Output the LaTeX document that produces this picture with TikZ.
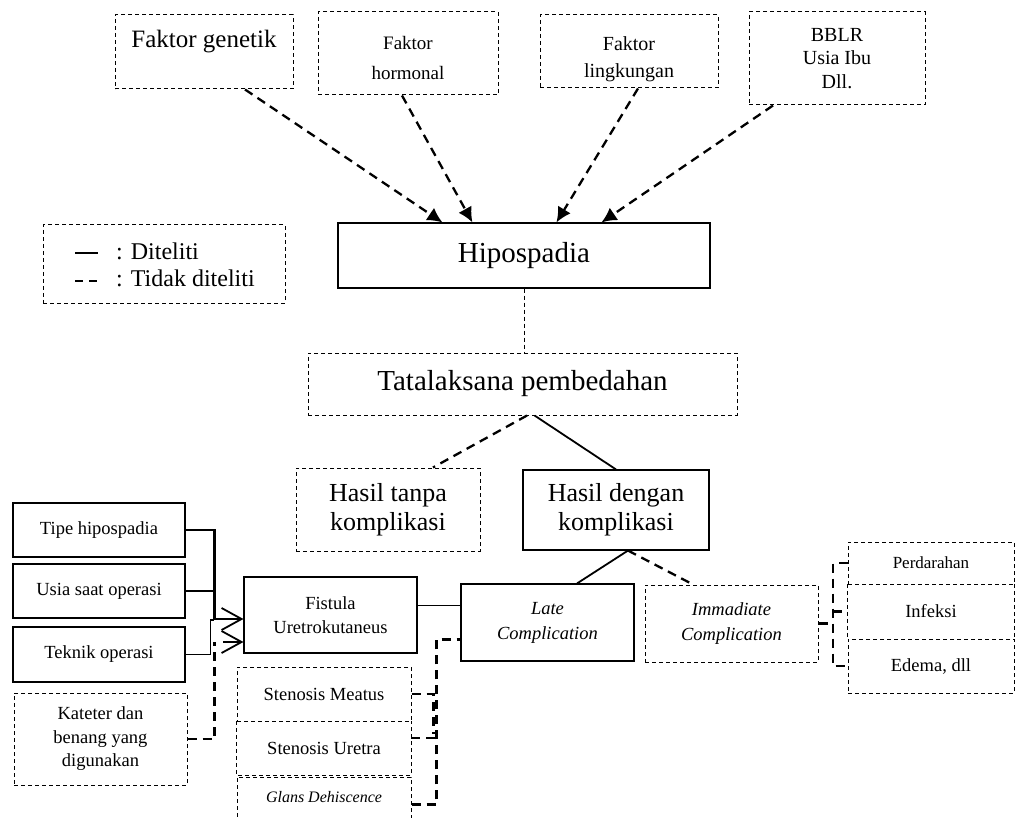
\documentclass[tikz,border=0pt]{standalone}
\usepackage{fontspec}
\setmainfont{Liberation Serif}
\usetikzlibrary{arrows.meta,calc}
\begin{document}
\begin{tikzpicture}[x=1pt,y=-1pt,
  sbox/.style={draw, line width=1.1pt, inner sep=0pt, align=center, rectangle},
  dbox/.style={draw, line width=1pt, dash pattern=on 4pt off 3pt, inner sep=0pt, align=center, rectangle},
  nbox/.style={inner sep=0pt, align=center, rectangle},
  dline/.style={line width=1pt, dash pattern=on 4pt off 3pt},
  txt/.style={inner sep=0pt, align=center},
  sconn/.style={line width=1.8pt},
  dconn/.style={line width=2.3pt, dash pattern=on 9pt off 6pt},
  tarr/.style={-{Latex[length=15pt,width=15pt]}},
  barr/.style={-{Straight Barb[length=20pt,width=22pt,line width=1.8pt]}},
  fa/.style={font=\fontsize{29}{33}\selectfont},
  fb/.style={font=\fontsize{26}{29}\selectfont},
  fc/.style={font=\fontsize{18.5}{23.5}\selectfont},
  fci/.style={font=\fontsize{18.5}{25}\selectfont\itshape},
]
\useasboundingbox (0,0) rectangle (1017,818);
\fill[white] (0,0) rectangle (1017,818);
\clip (0,0) rectangle (1017,818);

% top factor boxes
\node[dbox, minimum width=178pt, minimum height=74pt] (gen) at (204,52) {};
\node[txt, font=\fontsize{25}{28}\selectfont] (gent) at (204,42) {Faktor genetik};
\node[dbox, minimum width=180pt, minimum height=83pt] (hor) at (408,53.5) {};
\node[txt, font=\fontsize{19}{30}\selectfont] (hort) at (408,58.5) {Faktor\\hormonal};
\node[dbox, minimum width=178pt, minimum height=73pt] (lin) at (629,51.5) {};
\node[txt, font=\fontsize{20}{27}\selectfont] (lint) at (629,59) {Faktor\\lingkungan};
\node[dbox, minimum width=176pt, minimum height=93pt, font=\fontsize{20}{23.5}\selectfont] (bblr) at (837,58.5) {BBLR\\Usia Ibu\\Dll.};

% main chain
\node[sbox, minimum width=372pt, minimum height=65pt, fa] (hipo) at (524,255.5) {Hipospadia};
\node[dbox, minimum width=429pt, minimum height=62pt, fa] (tata) at (522.5,384) {Tatalaksana pembedahan};
\node[dbox, minimum width=184pt, minimum height=83pt, fb] (tanpa) at (388,509.5) {Hasil tanpa\\komplikasi};
\node[sbox, minimum width=186pt, minimum height=80pt, fb] (dengan) at (616,510) {Hasil dengan\\komplikasi};
\node[sbox, minimum width=173pt, minimum height=77pt, fci] (late) at (547.5,622.5) {Late\\Complication};
\node[dbox, minimum width=173pt, minimum height=77pt, fci] (imm) at (731.5,623.5) {Immadiate\\Complication};

% right group
\node[dbox, minimum width=166pt, minimum height=42pt, font=\fontsize{17}{20}\selectfont] (perd) at (931,563) {Perdarahan};
\node[nbox, minimum width=166pt, minimum height=55pt, fc] (inf) at (931,611.5) {Infeksi};
\draw[dline] (inf.north west) -- (inf.south west) (inf.north east) -- (inf.south east);
\node[dbox, minimum width=166pt, minimum height=54pt, fc] (ede) at (931,666) {Edema, dll};

% left group
\node[sbox, minimum width=172pt, minimum height=54pt, fc] (tipe) at (99,530) {Tipe hipospadia};
\node[sbox, minimum width=172pt, minimum height=54pt, fc] (usia) at (99,591) {Usia saat operasi};
\node[sbox, minimum width=172pt, minimum height=55pt, fc] (tek) at (99,654.5) {Teknik operasi};
\node[dbox, minimum width=173pt, minimum height=92pt, fc] (kat) at (100.5,739) {Kateter dan\\benang yang\\digunakan};
\node[sbox, minimum width=173pt, minimum height=76pt, fc] (fis) at (330.5,615) {Fistula\\Uretrokutaneus};

% late complications
\node[dbox, minimum width=174pt, minimum height=54pt, fc] (sm) at (324,694) {Stenosis Meatus};
\node[nbox, minimum width=174pt, minimum height=54pt, fc] (su) at (324,748) {Stenosis Uretra};
\draw[dline] (su.north west) -- (su.south west) -- (su.south east) -- (su.north east);
\node[dbox, minimum width=174pt, minimum height=50pt] (gd) at (324,802) {};
\node[txt, font=\fontsize{16}{19}\selectfont\itshape] (gdt) at (324,797) {Glans Dehiscence};

% legend
\node[dbox, minimum width=242pt, minimum height=78pt] (leg) at (164,264) {};
\draw[line width=2.5pt] (75,253) -- (98,253);
\node[txt, anchor=west, font=\fontsize{24}{28}\selectfont] (lg1) at (116,251) {: Diteliti};
\draw[line width=2.5pt, dash pattern=on 8pt off 6pt] (75,281) -- (99,281);
\node[txt, anchor=west, font=\fontsize{24}{28}\selectfont] (lg2) at (116,278) {: Tidak diteliti};

% arrows into Hipospadia
\draw[dconn, tarr] ($(gen.south)+(41,0)$) -- ($(hipo.north west)+(105,0)$);
\draw[dconn, tarr] ($(hor.south)+(-6,0)$) -- ($(hipo.north west)+(135,0)$);
\draw[dconn, tarr] ($(lin.south)+(9,0)$) -- ($(hipo.north west)+(219,0)$);
\draw[dconn, tarr] ($(bblr.south)+(-64,0)$) -- ($(hipo.north west)+(264,0)$);

% main chain connectors
\draw[dline] (hipo.south) -- (hipo.south |- tata.north);
\draw[dconn] ($(tata.south)+(4.5,0)$) -- ($(tanpa.north)+(45,0)$);
\draw[sconn] ($(tata.south)+(12,0)$) -- (dengan.north);
\draw[sconn] ($(dengan.south)+(12,0)$) -- ($(late.north)+(29.5,0)$);
\draw[dconn] ($(dengan.south)+(12,0)$) -- ($(imm.north)+(-38.5,0)$);

% immediate complications bracket
\coordinate (rb) at (833,0);
\draw[dconn] (imm.east) -- (imm.east -| rb);
\draw[dconn] (perd.west) -- (perd.west -| rb) -- (ede.west -| rb) -- (ede.west);
\draw[dconn] (inf.west -| rb) -- (inf.west);

% left inputs
\coordinate (a1) at ($(fis.west)+(0,4)$);
\coordinate (a2) at ($(fis.west)+(0,27)$);
\draw[line width=2.6pt] (tipe.east) -| ($(a1)+(-29,0)$);
\draw[line width=1.5pt] (usia.east) -- ++(30,0);
\draw[line width=1.5pt] (tek.east) -| ($(a1)+(-33,1)$) -- ($(a1)+(-29,1)$);
\draw[sconn, barr] ($(a1)+(-29,0)$) -- (a1);
\draw[dconn] (kat.east) -| ($(a2)+(-29,0)$);
\draw[line width=2pt, barr] ($(a2)+(-20,0)$) -- (a2);

% fistula -> late
\draw[line width=1.5pt] ($(fis.north east)+(0,29)$) -- ($(late.north west)+(0,22)$);

% stenosis -> late
\draw[dconn] ($(gd.north east)+(0,28)$) -| ($(late.south west)+(-24,-22)$) -- ($(late.south west)+(0,-22)$);
\draw[dconn] (sm.east) -- ++(22,0) -- ++(0,40);
\draw[dconn] ($(su.north east)+(0,17)$) -- ($(su.north east)+(26,17)$);
\end{tikzpicture}
\end{document}
